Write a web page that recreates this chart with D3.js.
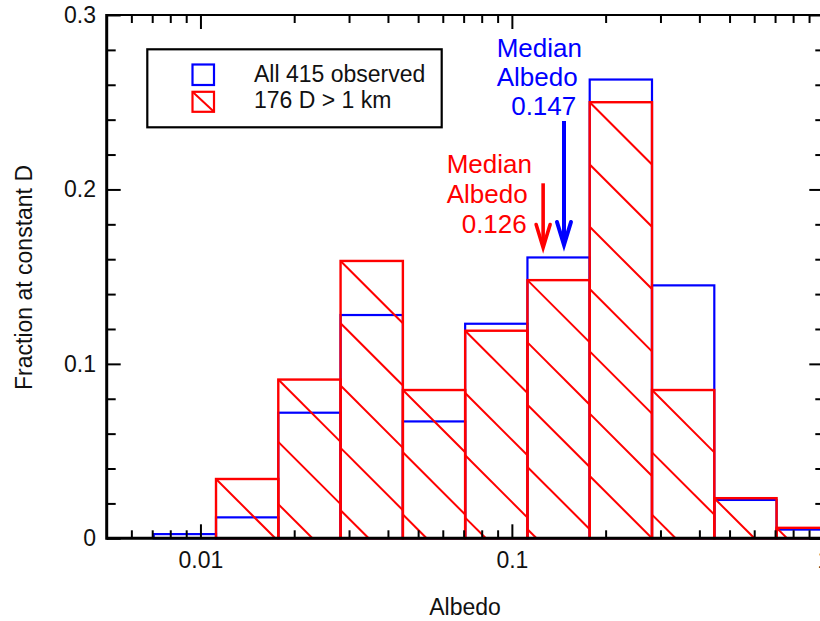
<!DOCTYPE html>
<html>
<head>
<meta charset="utf-8">
<script src="https://cdn.jsdelivr.net/npm/d3@7"></script>
<style>
  html, body { margin: 0; padding: 0; background: #fff; }
  svg { display: block; font-family: "Liberation Sans", Arial, sans-serif; }
</style>
</head>
<body>
<svg id="chart" width="820" height="621"></svg>
<script>
// ---- data ----
const binEdges = [0.00708, 0.01122, 0.01778, 0.02818, 0.04467, 0.07079, 0.1122, 0.1778, 0.2818, 0.4467, 0.7079, 1.122];
const allObserved = [0.0024, 0.012, 0.072, 0.128, 0.067, 0.123, 0.161, 0.263, 0.145, 0.022, 0.005];
const largeD = [0, 0.034, 0.091, 0.159, 0.085, 0.119, 0.148, 0.250, 0.085, 0.023, 0.006];
const xMajorTicks = [0.01, 0.1, 1];
const xMinorTicks = [0.006, 0.007, 0.008, 0.009, 0.02, 0.03, 0.04, 0.05, 0.06, 0.07, 0.08, 0.09, 0.2, 0.3, 0.4, 0.5, 0.6, 0.7, 0.8, 0.9];
const yMajorTicks = [0, 0.1, 0.2, 0.3];
const yMinorTicks = [0.02, 0.04, 0.06, 0.08, 0.12, 0.14, 0.16, 0.18, 0.22, 0.24, 0.26, 0.28];
const medianAll = 0.147;
const medianLarge = 0.126;
const legendLabels = ["All 415 observed", "176 D > 1 km"];

// ---- layout ----
const L = 106.7, R = 823.3, T = 15, B = 538.3;
const BLUE = "#0000ff", RED = "#ff0000";
const svg = d3.select("#chart");
const x = d3.scaleLog().domain([0.005, 1]).range([L, R]);
const y = d3.scaleLinear().domain([0, 0.3]).range([B, T]);

// ---- bars: all observed (blue) ----
const bins = allObserved.map((v, i) => ({ x0: binEdges[i], x1: binEdges[i + 1], all: v, large: largeD[i] }));
svg.append("g").selectAll("rect").data(bins.filter(d => d.all > 0)).join("rect")
  .attr("x", d => x(d.x0)).attr("y", d => y(d.all))
  .attr("width", d => x(d.x1) - x(d.x0)).attr("height", d => y(0) - y(d.all))
  .attr("fill", "none").attr("stroke", BLUE).attr("stroke-width", 2.2);

// ---- bars: D > 1 km (red, hatched) ----
const gRed = svg.append("g");
bins.filter(d => d.large > 0).forEach(d => {
  const x0 = x(d.x0), x1 = x(d.x1), w = x1 - x0, top = y(d.large), bot = y(0);
  const segs = [];
  for (let k = 0; top + k * w < bot; k++) {
    const sy = top + k * w;
    let ex = x1, ey = sy + w;
    if (ey > bot) { ex = x0 + (bot - sy); ey = bot; }
    segs.push([x0, sy, ex, ey]);
  }
  gRed.append("g").selectAll("line").data(segs).join("line")
    .attr("x1", s => s[0]).attr("y1", s => s[1]).attr("x2", s => s[2]).attr("y2", s => s[3])
    .attr("stroke", RED).attr("stroke-width", 2);
  gRed.append("rect").attr("x", x0).attr("y", top).attr("width", w).attr("height", bot - top)
    .attr("fill", "none").attr("stroke", RED).attr("stroke-width", 2.4);
});

// ---- axes ----
function styleAxis(g) {
  g.select(".domain").remove();
  g.selectAll(".tick line").attr("stroke", "#000").attr("stroke-width", 2);
  g.selectAll(".tick text").attr("font-size", 23).attr("fill", "#111")
    .attr("font-family", "'Liberation Sans', Arial, sans-serif");
}
const fmtX = d => (d === 1 ? "1" : d3.format(".2~f")(d));
// bottom
svg.append("g").attr("transform", `translate(0,${B})`)
  .call(d3.axisBottom(x).tickValues(xMajorTicks).tickSize(-14).tickPadding(13.7).tickFormat(fmtX))
  .call(styleAxis);
svg.append("g").attr("transform", `translate(0,${B})`)
  .call(d3.axisBottom(x).tickValues(xMinorTicks).tickSize(-8).tickFormat(""))
  .call(styleAxis);
// top
svg.append("g").attr("transform", `translate(0,${T})`)
  .call(d3.axisTop(x).tickValues(xMajorTicks).tickSize(-14).tickFormat(""))
  .call(styleAxis);
svg.append("g").attr("transform", `translate(0,${T})`)
  .call(d3.axisTop(x).tickValues(xMinorTicks).tickSize(-8).tickFormat(""))
  .call(styleAxis);
// left
svg.append("g").attr("transform", `translate(${L},0)`)
  .call(d3.axisLeft(y).tickValues(yMajorTicks).tickSize(-14).tickPadding(10.7).tickFormat(d => d === 0 ? "0" : d3.format(".1f")(d)))
  .call(styleAxis);
svg.append("g").attr("transform", `translate(${L},0)`)
  .call(d3.axisLeft(y).tickValues(yMinorTicks).tickSize(-9).tickFormat(""))
  .call(styleAxis);
// right
svg.append("g").attr("transform", `translate(${R},0)`)
  .call(d3.axisRight(y).tickValues(yMajorTicks).tickSize(-14).tickFormat(""))
  .call(styleAxis);
svg.append("g").attr("transform", `translate(${R},0)`)
  .call(d3.axisRight(y).tickValues(yMinorTicks).tickSize(-8).tickFormat(""))
  .call(styleAxis);

// frame
svg.append("line").attr("x1", L).attr("x2", R).attr("y1", B).attr("y2", B).attr("stroke", "#000").attr("stroke-width", 3);
svg.append("line").attr("x1", L).attr("x2", R).attr("y1", T).attr("y2", T).attr("stroke", "#000").attr("stroke-width", 2.2);
svg.append("line").attr("x1", L).attr("x2", L).attr("y1", T - 1).attr("y2", B + 1.5).attr("stroke", "#000").attr("stroke-width", 3);
svg.append("line").attr("x1", R).attr("x2", R).attr("y1", T).attr("y2", B).attr("stroke", "#000").attr("stroke-width", 2.2);

// axis titles
svg.append("text").attr("x", 465).attr("y", 615).attr("text-anchor", "middle")
  .attr("font-size", 23).attr("fill", "#111").text("Albedo");
svg.append("text").attr("transform", "translate(32,277.5) rotate(-90)").attr("text-anchor", "middle")
  .attr("font-size", 23).attr("fill", "#111").text("Fraction at constant D");

// ---- legend ----
const lg = svg.append("g");
lg.append("rect").attr("x", 147.3).attr("y", 49.3).attr("width", 294.4).attr("height", 78)
  .attr("fill", "#fff").attr("stroke", "#000").attr("stroke-width", 2.2);
lg.append("rect").attr("x", 192.5).attr("y", 64.5).attr("width", 21.5).attr("height", 20.5)
  .attr("fill", "none").attr("stroke", BLUE).attr("stroke-width", 2.2);
lg.append("rect").attr("x", 192.5).attr("y", 91.8).attr("width", 21.5).attr("height", 20)
  .attr("fill", "none").attr("stroke", RED).attr("stroke-width", 2.2);
lg.append("line").attr("x1", 192.5).attr("y1", 91.8).attr("x2", 214).attr("y2", 111.8)
  .attr("stroke", RED).attr("stroke-width", 2);
lg.selectAll("text.lab").data(legendLabels).join("text").attr("class", "lab")
  .attr("x", 254).attr("y", (d, i) => [81.7, 108.3][i])
  .attr("font-size", 23).attr("fill", "#111").text(d => d);

// ---- median annotations ----
function arrow(xv, yTop, yTip, color, sw) {
  const cx = x(xv);
  svg.append("line").attr("x1", cx).attr("x2", cx).attr("y1", yTop).attr("y2", yTip - 3)
    .attr("stroke", color).attr("stroke-width", sw);
  svg.append("path").attr("d", `M${cx - 7},${yTip - 23} L${cx},${yTip} L${cx + 7},${yTip - 23}`)
    .attr("fill", "none").attr("stroke", color).attr("stroke-width", sw)
    .attr("stroke-linejoin", "miter").attr("stroke-linecap", "round");
}
arrow(medianAll, 121, 245, BLUE, 4);
arrow(medianLarge, 183.3, 247.5, RED, 3.6);

const blueTxt = [["Median", 496.7, 57], ["Albedo", 496.7, 86], [String(medianAll), 511.2, 115]];
const redTxt = [["Median", 446.7, 173.3], ["Albedo", 446.7, 202.7], [String(medianLarge), 461.7, 232.5]];
svg.append("g").selectAll("text").data(blueTxt).join("text")
  .attr("x", d => d[1]).attr("y", d => d[2]).attr("font-size", 26).attr("fill", BLUE).text(d => d[0]);
svg.append("g").selectAll("text").data(redTxt).join("text")
  .attr("x", d => d[1]).attr("y", d => d[2]).attr("font-size", 26).attr("fill", RED).text(d => d[0]);
</script>
</body>
</html>
